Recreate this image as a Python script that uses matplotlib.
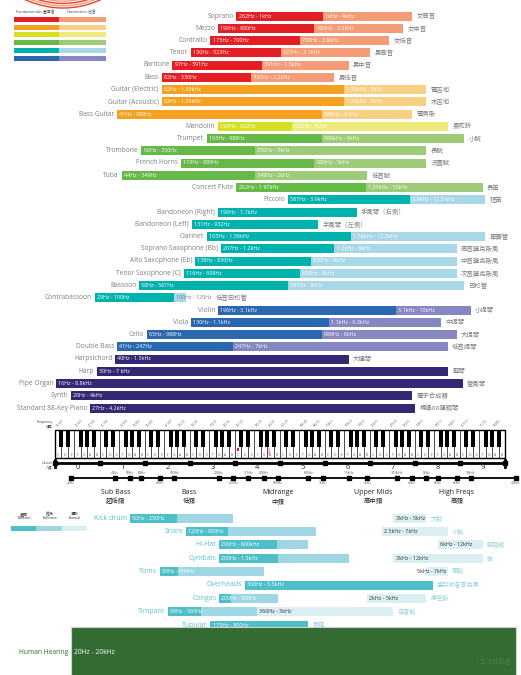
import numpy as np
import matplotlib.pyplot as plt
from matplotlib.patches import Rectangle, Circle

plt.rcParams['font.family'] = ['Open Sans', 'Noto Sans CJK TC', 'DejaVu Sans']

# ---- instrument ranges (Hz) ----
names = ["Soprano", "Mezzo", "Contralto", "Tenor", "Baritone", "Bass",
         "Guitar (Electric)", "Guitar (Acoustic)", "Bass Guitar", "Mandolin",
         "Trumpet", "Trombone", "French Horns", "Tuba", "Concert Flute",
         "Piccolo", "Bandoneon (Right)", "Bandoneon (Left)", "Clarinet",
         "Soprano Saxophone (Bb)", "Alto Saxophone (Eb)", "Tenor Saxophone (C)",
         "Bassoon", "Contrabassoon", "Violin", "Viola", "Cello", "Double Bass",
         "Harpsichord", "Harp", "Pipe Organ", "Synth", "Standard 88-Key Piano"]
names_zh = ["女高音", "女中音", "女低音", "男高音", "男中音", "男低音",
            "電吉他", "木吉他", "電貝斯", "曼陀鈴", "小號", "長號", "法國號",
            "低音號", "長笛", "短笛", "手風琴（右側）", "手風琴（左側）", "單簧管",
            "高音薩克斯風", "中音薩克斯風", "次音薩克斯風", "巴松管", "低音巴松管",
            "小提琴", "中提琴", "大提琴", "低音提琴", "大鍵琴", "豎琴", "管風琴",
            "電子合成器", "標準88鍵鋼琴"]
family = [0, 0, 0, 0, 0, 0, 1, 1, 1, 2, 3, 3, 3, 3, 3, 4, 4, 4, 4, 4, 4, 4,
          4, 4, 5, 5, 5, 5, 6, 6, 6, 6, 6]
fund_lo = [262, 196, 175, 130, 97, 82, 82, 82, 41, 196, 165, 60, 110, 44, 262,
           587, 196, 131, 165, 207, 138, 116, 58, 29, 196, 130, 65, 41, 40, 30,
           16, 20, 27]
fund_hi = [1000, 880, 700, 523, 391, 330, 1390, 1390, 988, 622, 988, 350, 880,
           349, 1970, 3900, 1700, 932, 1560, 1200, 830, 698, 587, 100, 3100,
           1100, 988, 247, 1500, 7000, 8800, 4000, 4200]
harm_hi = [4000, 3500, 2800, 2100, 1500, 1200, 5000, 5000, 4000, 7000, 9000,
           5000, 5000, 2000, 12000, 12500, None, None, 12500, 8000, 8000, 8000,
           9000, 120, 10000, 6300, 8000, 7000, None, None, None, None, None]
fund_txt = ["262Hz - 1kHz", "196Hz - 880Hz", "175Hz - 700Hz", "130Hz - 523Hz",
            "97Hz - 391Hz", "82Hz - 330Hz", "82Hz - 1.39kHz", "82Hz - 1.39kHz",
            "41Hz - 988Hz", "196Hz - 622Hz", "165Hz - 988Hz", "60Hz - 350Hz",
            "110Hz - 880Hz", "44Hz - 349Hz", "262Hz - 1.97kHz", "587Hz - 3.9kHz",
            "196Hz - 1.7kHz", "131Hz - 932Hz", "165Hz - 1.56kHz", "207Hz - 1.2kHz",
            "138Hz - 830Hz", "116Hz - 698Hz", "58Hz - 587Hz", "29Hz - 100Hz",
            "196Hz - 3.1kHz", "130Hz - 1.1kHz", "65Hz - 988Hz", "41Hz - 247Hz",
            "40Hz - 1.5kHz", "30Hz - 7 kHz", "16Hz - 8.8kHz", "20Hz - 4kHz",
            "27Hz - 4.2kHz"]
harm_txt = ["1kHz - 4kHz", "880Hz - 3.5kHz", "700Hz - 2.8kHz", "523Hz - 2.1kHz",
            "391Hz - 1.5kHz", "330Hz - 1.2kHz", "1.39kHz - 5kHz", "1.39kHz - 5kHz",
            "988Hz - 4 kHz", "622Hz - 7kHz", "988kHz - 9kHz", "350Hz - 5kHz",
            "880Hz - 5kHz", "349Hz - 2kHz", "1.97kHz - 12kHz", "3.9kHz - 12.5 kHz",
            None, None, "1.56kHz - 12.5kHz", "1.2kHz - 8kHz", "830Hz - 8kHz",
            "698Hz - 8kHz", "587Hz - 9kHz", "100Hz - 120Hz", "3.1kHz - 10kHz",
            "1.1kHz - 6.3kHz", "988Hz - 8kHz", "247Hz - 7kHz", None, None, None,
            None, None]

fund_colors = ["#e31e24", "#f4a020", "#d7df23", "#66b847", "#00b2ad", "#2a67b0", "#332874"]
harm_colors = ["#f39c77", "#f8d083", "#eeeb7c", "#9dcb77", "#a8d8e8", "#8686c3", "#332874"]

# ---- drums ----
drums = ["Kick drum", "Snare", "Hi-Hat", "Cymbals", "Toms", "Overheads",
         "Congas", "Timpani", "Tubular"]
drums_zh = ["大鼓", "小鼓", "腳踏鈸", "鈸", "筒鼓", "高架收音麥克風", "康佳鼓",
            "定音鼓", "管鐘"]
bot_lo = [50, 120, 200, 200, 80, 300, 200, 90, 175]
bot_hi = [104, 230, 495, 500, 106, 5500, 240, 150, 800]
full_hi = [250, 900, 800, 1500, 400, None, 500, 360, None]
att_lo = [3000, 2500, 6000, 3000, 5000, None, 2000, 360, None]
att_hi = [5000, 7000, 12000, 12000, 7000, None, 5000, 3000, None]
bot_txt = ["50Hz - 250Hz", "120Hz - 900Hz", "200Hz - 800kHz", "200Hz - 1.5kHz",
           "80Hz - 400Hz", "300Hz - 5.5kHz", "200Hz - 500Hz", "90Hz - 360Hz",
           "175Hz - 800Hz"]
att_txt = ["3kHz - 5kHz", "2.5kHz - 7kHz", "6kHz - 12kHz", "3kHz - 12kHz",
           "5kHz - 7kHz", None, "2kHz - 5kHz", "360Hz - 3kHz", None]
drum_cols = ["#4cbfc9", "#9fd6e4", "#dbeff2"]

# ---- frequency band axis ----
band_top = [40, 50, 60, 100, 200, 315, 400, 800, 1500, 3150, 5000, 10000]
band_top_txt = ["40Hz", "50Hz", "60Hz", "100Hz", "200Hz", "315Hz", "400Hz",
                "800Hz", "1.5kHz", "3.15kHz", "5kHz", "10kHz"]
band_bot = [20, 80, 250, 500, 1000, 2000, 4000, 6000, 8000, 20000]
band_bot_txt = ["20Hz", "80Hz", "250Hz", "500Hz", "1kHz", "2kHz", "4kHz",
                "6kHz", "8kHz", "20kHz"]
bands = ["Sub Bass", "Bass", "Midrange", "Upper Mids", "High Freqs"]
bands_zh = ["超低頻", "低頻", "中頻", "高中頻", "高頻"]
band_mid = [40, 125, 500, 2200, 8000]

# piano key frequencies shown above the keyboard (C, F, A of each octave)
key_c = ["16.351", "32.703", "65.406", "130.81", "261.63", "523.25", "1046.5", "2093.0", "4186.0", "8372.0"]
key_f = ["21.827", "43.654", "87.307", "174.61", "349.23", "698.46", "1396.9", "2793.8", "5587.7", "11175"]
key_a = ["27.500", "55.000", "110.00", "220.00", "440.00", "880.00", "1760.0", "3520.0", "7040.0", "14080"]

hearing = (20, 20000)
green = "#336b33"
gray = "#7f7f7f"

W, H = 521, 675
fig = plt.figure(figsize=(W / 100, H / 100), dpi=100)
ax = fig.add_axes([0, 0, 1, 1])
ax.set_xscale('log')
ax.set_xlim(6.67, 21730)
ax.set_ylim(H, 0)
ax.axis('off')
ov = fig.add_axes([0, 0, 1, 1])
ov.set_xlim(0, W)
ov.set_ylim(H, 0)
ov.axis('off')
ov.patch.set_alpha(0)

fig.canvas.draw()
renderer = fig.canvas.get_renderer()


def text_end(t):
    bb = t.get_window_extent(renderer)
    return ax.transData.inverted().transform((bb.x1, 0))[0]


# ---- instrument bars ----
bh = 9
for i, name in enumerate(names):
    y = 16 + 12.25 * i
    fc = family[i]
    ax.barh(y, fund_hi[i] - fund_lo[i], left=fund_lo[i], height=bh,
            color=fund_colors[fc], zorder=2)
    ax.annotate(name, (fund_lo[i], y), xytext=(-2, 0), textcoords='offset points',
                ha='right', va='center', fontsize=4.8, color=gray)
    ax.annotate(fund_txt[i], (fund_lo[i], y), xytext=(1.5, 0), textcoords='offset points',
                ha='left', va='center', fontsize=3.9, color='white', zorder=3)
    end = fund_hi[i]
    last = None
    if harm_hi[i] is not None:
        ax.barh(y, harm_hi[i] - fund_hi[i], left=fund_hi[i], height=bh,
                color=harm_colors[fc], zorder=2)
        narrow = np.log10(harm_hi[i] / fund_hi[i]) < 0.2
        last = ax.annotate(harm_txt[i], (fund_hi[i], y), xytext=(1.5, 0),
                           textcoords='offset points', ha='left', va='center',
                           fontsize=3.9, color=gray if narrow else 'white', zorder=3)
        end = harm_hi[i]
        if not narrow:
            last = None
    if last is not None:
        end = max(end, text_end(last))
    ax.annotate(names_zh[i], (end, y), xytext=(3, 0), textcoords='offset points',
                ha='left', va='center', fontsize=4.6, color=gray)

# ---- legend top-left ----
for k in range(6):
    r = 89.6 - 2.3 * k
    ov.add_patch(Circle((63, -81.6), r, fill=False, lw=1.0,
                        color="#e8412c" if k % 2 == 0 else "#f39c77"))
ov.text(16, 12, "Fundamentals 基本音", fontsize=2.8, color="#444", va='center')
ov.text(67, 12, "Harmonics 泛音", fontsize=2.8, color="#444", va='center')
for k, yy in enumerate([19.5, 27.5, 34.5, 42.5, 50.5, 58.5]):
    ov.add_patch(Rectangle((14, yy - 2.5), 45, 5, color=fund_colors[k], lw=0))
    ov.add_patch(Rectangle((59, yy - 2.5), 47, 5, color=harm_colors[k], lw=0))

# ---- keyboard ----
kx0, kw, ky0, ky1 = 55, 450 / 70, 430, 458
for i in range(70):
    ov.add_patch(Rectangle((kx0 + i * kw, ky0), kw, ky1 - ky0, facecolor='white',
                           edgecolor='black', lw=0.4))
    ov.text(kx0 + (i + 0.5) * kw, 455, "CDEFGAB"[i % 7], fontsize=2.3,
            ha='center', va='center', color='#555')
for o in range(10):
    for w in [0, 1, 3, 4, 5]:
        cx = kx0 + (o * 7 + w + 1) * kw
        ov.add_patch(Rectangle((cx - kw * 0.32, ky0), kw * 0.64, 17, color='black', lw=0))
    for w, lab in zip([0, 3, 5], [key_c[o], key_f[o], key_a[o]]):
        ov.text(kx0 + (o * 7 + w + 0.5) * kw, 428, lab, fontsize=2.2, rotation=45,
                ha='left', va='bottom', color='#666', rotation_mode='anchor')
ov.add_patch(Rectangle((kx0, ky0), 450, ky1 - ky0, fill=False, edgecolor='black', lw=1.0))
ov.add_patch(Rectangle((kx0 + 28 * kw + 2.2, 448), 2, 3, color='#e31e24', lw=0))
ov.text(kx0 + 33.5 * kw, 450, "A440", fontsize=1.8, rotation=90, color='#e31e24',
        ha='center', va='center')
ov.text(53, 424, "Frequency\n頻率", fontsize=2.4, ha='right', va='center',
        color='#444', linespacing=1.0)

# octave bar
ov.plot([kx0, kx0 + 450], [463, 463], color='black', lw=2.0)
for i in range(11):
    ov.plot([kx0 + 45 * i], [463], marker='s', ms=2.6, color='black')
ov.plot([kx0, kx0], [459.5, 467], color='black', lw=2)
ov.plot([kx0 + 450, kx0 + 450], [459.5, 467], color='black', lw=2)
for o in range(10):
    ov.text(kx0 + 22.5 + 45 * o, 467.5, str(o), fontsize=5.5, ha='center',
            va='center', color='#222')
ov.text(53, 465, "Octave\n八度", fontsize=2.4, ha='right', va='center',
        color='#444', linespacing=1.0)

# ---- frequency band axis ----
ax.plot([band_bot[0], band_bot[-1]], [478, 478], color='black', lw=1.3)
ax.plot(band_top + band_bot, [478] * (len(band_top) + len(band_bot)), 's',
        ms=2.2, color='black')
for f, t in zip(band_top, band_top_txt):
    ax.text(f, 475.5, t, fontsize=2.4, ha='center', va='bottom', color='#555')
for f, t in zip(band_bot, band_bot_txt):
    ax.text(f, 480.5, t, fontsize=2.4, ha='center', va='top', color='#555')
for f, t, z in zip(band_mid, bands, bands_zh):
    ax.text(f, 493, t, fontsize=5, ha='center', va='center', color='#222')
    ax.text(f, 501, z, fontsize=4.6, ha='center', va='center', color='#222')

# ---- drum legend ----
for k, (t, x) in enumerate(zip(["基礎\nBottom", "飽滿\nFullness", "清晰\nAttack"],
                               [24, 50, 75])):
    ov.text(x, 516, t, fontsize=2.8, ha='center', va='center', color='#333',
            linespacing=1.0)
    ov.add_patch(Rectangle((11 + 25.4 * k, 526), 25.4, 4.5, color=drum_cols[k], lw=0))

# ---- drum rows ----
dh = 9
for i, name in enumerate(drums):
    y = 518 + 13.4 * i
    ax.barh(y, bot_hi[i] - bot_lo[i], left=bot_lo[i], height=dh,
            color=drum_cols[0], zorder=2)
    end = bot_hi[i]
    if full_hi[i] is not None:
        ax.barh(y, full_hi[i] - bot_hi[i], left=bot_hi[i], height=dh,
                color=drum_cols[1], zorder=2)
        end = full_hi[i]
    ax.annotate(bot_txt[i], (bot_lo[i], y), xytext=(1.5, 0), textcoords='offset points',
                ha='left', va='center', fontsize=3.9, color='white', zorder=3)
    if att_lo[i] is not None:
        ax.barh(y, att_hi[i] - att_lo[i], left=att_lo[i], height=dh,
                color=drum_cols[2], zorder=2)
        wide = 148.3 * np.log10(att_hi[i] / att_lo[i]) > len(att_txt[i]) * 2.9
        if wide:
            ax.annotate(att_txt[i], (att_lo[i], y), xytext=(1.5, 0), textcoords='offset points',
                        ha='left', va='center', fontsize=3.9, color='#333', zorder=3)
        else:
            ax.annotate(att_txt[i], (att_hi[i], y), xytext=(-1.5, 0), textcoords='offset points',
                        ha='right', va='center', fontsize=3.9, color='#333', zorder=3)
        end = att_hi[i]
    ax.annotate(name, (bot_lo[i], y), xytext=(-2, 0), textcoords='offset points',
                ha='right', va='center', fontsize=5, color="#5cc3cd")
    ax.annotate(drums_zh[i], (end, y), xytext=(3, 0), textcoords='offset points',
                ha='left', va='center', fontsize=4.4, color="#8fd0da")

# ---- human hearing ----
ax.barh(627 + 30, hearing[1] - hearing[0], left=hearing[0], height=60, color=green,
        edgecolor='#cfcfcf', lw=0.8, zorder=5)
ax.annotate("Human Hearing", (hearing[0], 653), xytext=(-2, 0), textcoords='offset points',
            ha='right', va='center', fontsize=4.8, color=green, zorder=6)
ax.annotate("20Hz - 20kHz", (hearing[0], 653), xytext=(2, 0), textcoords='offset points',
            ha='left', va='center', fontsize=4.8, color='white', zorder=6)
ax.annotate("人耳可聽範圍", (hearing[1], 662), xytext=(-3, 0), textcoords='offset points',
            ha='right', va='center', fontsize=4.4, color='#3f7d3f', zorder=6)

fig.savefig('out.png', dpi=100)
